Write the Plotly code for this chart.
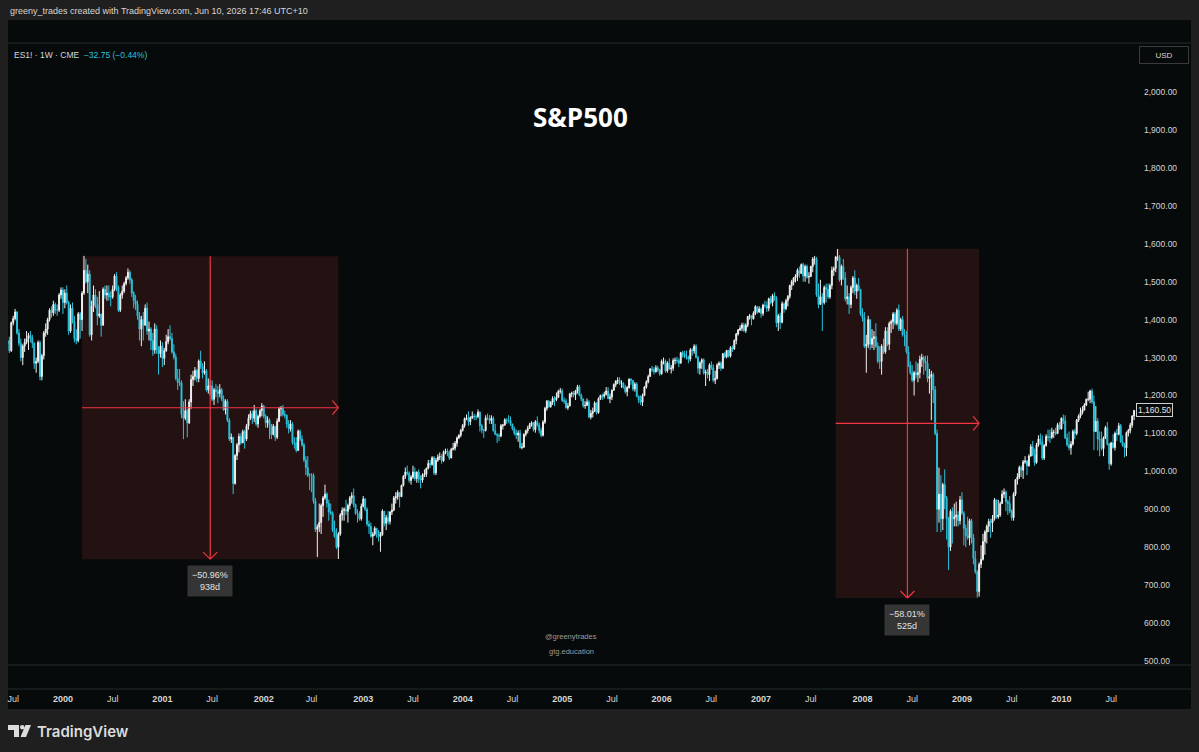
import plotly.graph_objects as go
import pandas as pd

# ---------------- data (weekly ES1! candles) ----------------
start_week = "1999-06-14"
first_open = 1335.0

close = [
    # 1999
    1345, 1318, 1392, 1403, 1420, 1365, 1338, 1300, 1330, 1340, 1350, 1358, 1352, 1338, 1285, 1290, 1340, 1250, 1305, 1365,
    1375, 1400, 1425, 1418, 1440, 1425, 1425, 1465, 1478,
    # 2000
    1445, 1470, 1445, 1370, 1430, 1395, 1350, 1345, 1415, 1400, 1470, 1530, 1500, 1520, 1360, 1435, 1465, 1440, 1410, 1415,
    1385, 1480, 1465, 1470, 1460, 1460, 1480, 1515, 1485, 1425, 1465, 1475, 1495, 1510, 1525, 1505, 1470, 1450, 1440, 1410,
    1375, 1400, 1385, 1430, 1370, 1375, 1345, 1320, 1375, 1320, 1310, 1330,
    # 2001
    1298, 1318, 1342, 1355, 1350, 1315, 1301, 1245, 1235, 1233, 1150, 1140, 1160, 1128, 1183, 1242, 1250, 1266, 1245, 1291,
    1278, 1260, 1265, 1215, 1225, 1225, 1190, 1215, 1210, 1205, 1215, 1190, 1162, 1185, 1135, 1085, 1090, 968, 1042, 1070,
    1092, 1075, 1105, 1085, 1120, 1140, 1152, 1140, 1160, 1125, 1145, 1160, 1172,
    # 2002
    1146, 1128, 1135, 1122, 1097, 1118, 1090, 1132, 1165, 1168, 1150, 1148, 1125, 1112, 1125, 1076, 1075, 1055, 1106, 1085,
    1070, 1030, 1010, 990, 990, 990, 922, 847, 853, 865, 910, 930, 940, 916, 893, 890, 845, 828, 800, 835,
    885, 897, 900, 895, 910, 930, 936, 912, 889, 889, 875, 908,
    # 2003
    927, 900, 861, 855, 829, 834, 850, 841, 828, 833, 895, 863, 878, 868, 893, 898, 930, 933, 944, 933,
    963, 987, 998, 995, 976, 985, 998, 981, 998, 980, 977, 990, 993, 1008, 1021, 1018, 1036, 996, 1029, 1038,
    1039, 1028, 1050, 1053, 1050, 1035, 1058, 1061, 1074, 1088, 1095, 1108,
    # 2004
    1121, 1139, 1141, 1131, 1142, 1145, 1144, 1144, 1156, 1120, 1109, 1108, 1141, 1139, 1134, 1140, 1107, 1098, 1095, 1093,
    1120, 1122, 1136, 1135, 1134, 1125, 1112, 1101, 1096, 1101, 1063, 1064, 1098, 1107, 1113, 1123, 1128, 1110, 1131, 1122,
    1108, 1095, 1130, 1166, 1185, 1170, 1182, 1192, 1189, 1195, 1211, 1212,
    # 2005
    1187, 1185, 1168, 1172, 1204, 1206, 1202, 1212, 1223, 1201, 1191, 1173, 1174, 1183, 1143, 1153, 1158, 1180, 1155, 1192,
    1200, 1198, 1203, 1212, 1192, 1196, 1214, 1229, 1238, 1240, 1232, 1233, 1222, 1210, 1221, 1243, 1240, 1217, 1230, 1198,
    1188, 1182, 1200, 1222, 1236, 1250, 1270, 1268, 1263, 1273, 1267, 1257,
    # 2006
    1290, 1290, 1265, 1285, 1270, 1272, 1292, 1293, 1292, 1285, 1313, 1309, 1302, 1301, 1296, 1320, 1318, 1330, 1300, 1272,
    1286, 1294, 1259, 1262, 1255, 1280, 1273, 1240, 1245, 1280, 1285, 1272, 1310, 1302, 1319, 1304, 1326, 1323, 1345, 1362,
    1373, 1377, 1386, 1371, 1385, 1408, 1410, 1402, 1417, 1434, 1420, 1428,
    # 2007
    1416, 1438, 1437, 1430, 1455, 1445, 1463, 1458, 1392, 1410, 1393, 1442, 1429, 1450, 1461, 1490, 1500, 1510, 1515, 1530,
    1522, 1545, 1515, 1540, 1512, 1514, 1540, 1560, 1560, 1465, 1440, 1460, 1445, 1485, 1480, 1460, 1490, 1530, 1535, 1565,
    1565, 1505, 1540, 1510, 1455, 1460, 1440, 1485, 1510, 1475, 1490, 1480, 1415,
    # 2008
    1405, 1330, 1335, 1400, 1335, 1350, 1355, 1330, 1290, 1290, 1330, 1315, 1370, 1335, 1390, 1395, 1415, 1390, 1425, 1375,
    1400, 1360, 1360, 1315, 1280, 1260, 1240, 1260, 1255, 1260, 1295, 1300, 1290, 1285, 1245, 1250, 1255, 1215, 1100, 900,
    940, 875, 965, 930, 875, 800, 895, 875, 880, 885, 870, 925,
    # 2009
    890, 850, 830, 825, 870, 825, 770, 735, 683, 755, 768, 815, 840, 855, 868, 865, 875, 925, 880, 885,
    915, 940, 945, 920, 915, 895, 878, 940, 978, 985, 1010, 1003, 1025, 1027, 1015, 1040, 1065, 1043, 1023, 1070,
    1085, 1078, 1035, 1068, 1092, 1090, 1090, 1103, 1103, 1100, 1123, 1112,
    # 2010
    1140, 1133, 1088, 1070, 1062, 1072, 1105, 1100, 1135, 1146, 1155, 1162, 1175, 1190, 1190, 1212, 1183, 1105, 1132, 1085,
    1083, 1060, 1088, 1115, 1072, 1020, 1075, 1063, 1100, 1098, 1120, 1078, 1068, 1062, 1102, 1108, 1122, 1146, 1160.5,
]

high = [
    # 1999
    1352, 1355, 1395, 1410, 1428, 1422, 1375, 1350, 1335, 1350, 1370, 1365, 1370, 1360, 1340, 1300, 1345, 1345, 1310, 1370,
    1390, 1405, 1430, 1435, 1450, 1445, 1440, 1470, 1485,
    # 2000
    1485, 1480, 1490, 1450, 1440, 1445, 1410, 1375, 1420, 1420, 1475, 1568, 1560, 1545, 1530, 1450, 1490, 1480, 1460, 1475,
    1415, 1485, 1490, 1490, 1490, 1475, 1490, 1520, 1525, 1490, 1470, 1490, 1500, 1515, 1535, 1530, 1510, 1475, 1465, 1450,
    1420, 1410, 1420, 1440, 1445, 1395, 1380, 1365, 1390, 1385, 1330, 1345,
    # 2001
    1340, 1325, 1360, 1375, 1385, 1365, 1335, 1310, 1270, 1270, 1240, 1185, 1190, 1165, 1190, 1255, 1265, 1275, 1270, 1295,
    1318, 1285, 1290, 1270, 1245, 1240, 1240, 1220, 1230, 1225, 1230, 1220, 1200, 1190, 1190, 1140, 1100, 1090, 1045, 1075,
    1100, 1100, 1110, 1110, 1125, 1150, 1160, 1160, 1175, 1165, 1150, 1165, 1180,
    # 2002
    1175, 1150, 1145, 1140, 1125, 1125, 1120, 1140, 1170, 1172, 1175, 1160, 1150, 1135, 1135, 1130, 1090, 1090, 1110, 1110,
    1095, 1075, 1040, 1040, 995, 995, 995, 930, 860, 915, 915, 935, 965, 945, 925, 915, 895, 870, 850, 840,
    890, 905, 905, 925, 915, 935, 945, 955, 915, 900, 895, 915,
    # 2003
    935, 930, 905, 870, 865, 840, 855, 850, 845, 840, 900, 890, 885, 895, 895, 915, 935, 945, 950, 945,
    965, 990, 1010, 1015, 1000, 990, 1015, 1010, 1000, 1005, 990, 995, 1005, 1010, 1030, 1030, 1040, 1040, 1035, 1045,
    1050, 1045, 1055, 1060, 1060, 1055, 1062, 1075, 1080, 1092, 1098, 1112,
    # 2004
    1125, 1142, 1150, 1158, 1145, 1158, 1152, 1150, 1163, 1158, 1125, 1112, 1148, 1152, 1148, 1148, 1145, 1125, 1100, 1100,
    1125, 1125, 1140, 1140, 1148, 1145, 1125, 1118, 1110, 1108, 1110, 1075, 1100, 1110, 1120, 1128, 1132, 1130, 1135, 1145,
    1128, 1115, 1135, 1170, 1188, 1188, 1185, 1198, 1198, 1208, 1215, 1220,
    # 2005
    1218, 1195, 1192, 1180, 1207, 1210, 1212, 1215, 1228, 1228, 1205, 1192, 1185, 1192, 1188, 1162, 1168, 1185, 1182, 1195,
    1202, 1205, 1210, 1222, 1222, 1205, 1216, 1232, 1240, 1248, 1248, 1240, 1235, 1228, 1225, 1245, 1245, 1240, 1235, 1235,
    1200, 1200, 1205, 1225, 1240, 1255, 1272, 1278, 1275, 1280, 1278, 1270,
    # 2006
    1295, 1300, 1295, 1290, 1298, 1280, 1298, 1300, 1302, 1298, 1315, 1318, 1318, 1318, 1305, 1325, 1325, 1335, 1335, 1305,
    1290, 1298, 1298, 1268, 1270, 1285, 1290, 1282, 1265, 1285, 1290, 1290, 1312, 1315, 1320, 1320, 1330, 1332, 1348, 1365,
    1375, 1385, 1392, 1392, 1390, 1410, 1415, 1410, 1422, 1438, 1435, 1435,
    # 2007
    1432, 1442, 1450, 1448, 1458, 1462, 1468, 1472, 1462, 1415, 1418, 1448, 1445, 1455, 1465, 1492, 1505, 1512, 1520, 1535,
    1540, 1548, 1550, 1545, 1545, 1525, 1542, 1565, 1568, 1565, 1495, 1505, 1470, 1490, 1495, 1495, 1495, 1540, 1540, 1568,
    1586, 1570, 1545, 1560, 1525, 1490, 1470, 1490, 1515, 1530, 1495, 1510, 1480,
    # 2008
    1430, 1420, 1360, 1410, 1400, 1375, 1370, 1390, 1340, 1330, 1335, 1350, 1380, 1380, 1395, 1400, 1420, 1420, 1430, 1440,
    1405, 1410, 1375, 1370, 1330, 1290, 1280, 1265, 1290, 1285, 1305, 1310, 1305, 1305, 1305, 1270, 1265, 1260, 1225, 1110,
    1010, 990, 970, 1005, 935, 880, 900, 905, 915, 920, 895, 935,
    # 2009
    945, 895, 860, 880, 875, 875, 835, 790, 740, 760, 805, 835, 845, 860, 875, 875, 885, 930, 925, 925,
    920, 950, 955, 950, 925, 935, 900, 945, 980, 995, 1015, 1015, 1030, 1040, 1030, 1045, 1072, 1080, 1060, 1075,
    1095, 1100, 1095, 1072, 1098, 1110, 1110, 1115, 1110, 1115, 1128, 1130,
    # 2010
    1142, 1150, 1148, 1100, 1105, 1080, 1110, 1112, 1138, 1150, 1168, 1172, 1180, 1192, 1210, 1215, 1218, 1200, 1172, 1140,
    1105, 1105, 1092, 1120, 1130, 1075, 1078, 1098, 1105, 1112, 1128, 1125, 1095, 1075, 1105, 1112, 1128, 1148, 1162,
]

low = [
    # 1999
    1318, 1312, 1315, 1385, 1398, 1360, 1330, 1290, 1280, 1315, 1335, 1320, 1340, 1325, 1270, 1260, 1285, 1240, 1240, 1295,
    1355, 1360, 1395, 1405, 1410, 1415, 1410, 1420, 1455,
    # 2000
    1415, 1430, 1440, 1360, 1365, 1390, 1340, 1335, 1340, 1350, 1370, 1465, 1495, 1470, 1355, 1345, 1420, 1430, 1385, 1405,
    1355, 1385, 1455, 1450, 1450, 1435, 1455, 1475, 1475, 1420, 1420, 1455, 1470, 1490, 1505, 1495, 1460, 1430, 1425, 1400,
    1345, 1330, 1345, 1390, 1360, 1345, 1320, 1305, 1310, 1310, 1255, 1300,
    # 2001
    1275, 1280, 1315, 1335, 1345, 1310, 1295, 1240, 1215, 1225, 1140, 1085, 1135, 1090, 1125, 1165, 1225, 1240, 1235, 1235,
    1270, 1245, 1255, 1210, 1205, 1200, 1185, 1175, 1195, 1180, 1195, 1185, 1160, 1150, 1130, 1080, 1075, 940, 965, 1030,
    1050, 1070, 1075, 1060, 1080, 1110, 1135, 1125, 1130, 1120, 1115, 1140, 1145,
    # 2002
    1140, 1115, 1115, 1085, 1085, 1095, 1080, 1085, 1130, 1145, 1145, 1140, 1115, 1100, 1105, 1070, 1060, 1050, 1055, 1080,
    1065, 1025, 990, 985, 950, 945, 915, 840, 774, 840, 835, 880, 925, 905, 870, 885, 840, 825, 795, 769,
    830, 870, 870, 885, 865, 900, 915, 905, 885, 865, 870, 870,
    # 2003
    905, 895, 855, 835, 825, 805, 830, 825, 815, 788, 830, 855, 845, 860, 860, 885, 895, 915, 925, 905,
    935, 960, 980, 990, 970, 965, 980, 975, 970, 970, 955, 970, 985, 985, 1005, 1010, 1015, 990, 990, 1025,
    1030, 1020, 1025, 1045, 1040, 1030, 1035, 1055, 1055, 1065, 1085, 1090,
    # 2004
    1105, 1115, 1135, 1120, 1122, 1138, 1135, 1135, 1140, 1105, 1100, 1088, 1105, 1135, 1125, 1125, 1105, 1095, 1075, 1080,
    1090, 1110, 1120, 1125, 1128, 1120, 1108, 1095, 1085, 1078, 1060, 1058, 1062, 1092, 1100, 1112, 1118, 1105, 1102, 1118,
    1100, 1090, 1092, 1125, 1160, 1168, 1168, 1175, 1172, 1185, 1195, 1205,
    # 2005
    1183, 1178, 1165, 1162, 1172, 1195, 1195, 1188, 1205, 1198, 1185, 1168, 1165, 1172, 1140, 1137, 1142, 1158, 1150, 1152,
    1188, 1188, 1192, 1200, 1190, 1180, 1188, 1212, 1222, 1230, 1228, 1220, 1218, 1205, 1198, 1218, 1228, 1212, 1210, 1195,
    1180, 1175, 1172, 1198, 1218, 1232, 1250, 1262, 1255, 1260, 1262, 1252,
    # 2006
    1255, 1282, 1260, 1260, 1268, 1258, 1265, 1282, 1285, 1275, 1285, 1300, 1298, 1295, 1285, 1290, 1305, 1310, 1298, 1258,
    1255, 1270, 1255, 1225, 1245, 1238, 1268, 1235, 1230, 1242, 1270, 1265, 1270, 1298, 1298, 1300, 1300, 1315, 1320, 1335,
    1358, 1370, 1370, 1368, 1365, 1380, 1400, 1385, 1400, 1412, 1415, 1418,
    # 2007
    1405, 1410, 1430, 1420, 1422, 1440, 1435, 1450, 1380, 1370, 1375, 1390, 1418, 1425, 1435, 1455, 1478, 1490, 1498, 1502,
    1510, 1520, 1500, 1500, 1508, 1495, 1512, 1525, 1545, 1460, 1430, 1440, 1370, 1440, 1445, 1455, 1455, 1480, 1515, 1525,
    1555, 1500, 1490, 1505, 1448, 1440, 1415, 1430, 1470, 1465, 1455, 1475, 1410,
    # 2008
    1395, 1325, 1260, 1325, 1320, 1325, 1320, 1325, 1285, 1270, 1255, 1310, 1310, 1330, 1320, 1365, 1375, 1385, 1385, 1370,
    1370, 1355, 1330, 1310, 1275, 1255, 1235, 1200, 1245, 1235, 1245, 1275, 1255, 1265, 1235, 1205, 1135, 1180, 1095, 840,
    865, 840, 845, 900, 820, 740, 790, 810, 855, 855, 855, 860,
    # 2009
    885, 805, 800, 820, 805, 810, 755, 730, 667, 670, 745, 765, 780, 810, 840, 825, 840, 870, 875, 875,
    880, 915, 930, 895, 885, 890, 870, 870, 935, 965, 980, 985, 980, 1020, 990, 1012, 1040, 1040, 1015, 1020,
    1065, 1070, 1030, 1030, 1065, 1080, 1075, 1085, 1088, 1095, 1098, 1110,
    # 2010
    1110, 1125, 1085, 1065, 1055, 1044, 1068, 1085, 1095, 1130, 1140, 1150, 1160, 1172, 1185, 1180, 1178, 1056, 1105, 1055,
    1040, 1055, 1040, 1085, 1068, 1004, 1015, 1060, 1055, 1080, 1095, 1075, 1065, 1037, 1040, 1092, 1100, 1115, 1135,
]

# drawdown measurements (anchor bar dates and prices)
dd1_start, dd1_end, dd1_top, dd1_bottom = "2000-03-13", "2002-10-07", 1567.0, 768.5
dd2_start, dd2_end, dd2_top, dd2_bottom = "2007-10-01", "2009-03-09", 1586.75, 666.25

price_ticks = list(range(500, 2001, 100))

# ---------------- build ----------------
n = min(len(close), len(high), len(low))
dates = pd.date_range(start_week, periods=n, freq="W-MON")
opens = [first_open] + close[:n - 1]
closes = close[:n]
highs = [max(h, o, c) for h, o, c in zip(high[:n], opens, closes)]
lows = [min(l, o, c) for l, o, c in zip(low[:n], opens, closes)]

UP = "#f2f2f2"
DN = "#2cc3dc"
PANEL = "#070a0a"
FRAME = "#1f1f1f"
RED = "#f23645"
LINE = "#252a2a"

W, H = 1199, 752
L, R, T, B = 8, 1136, 45, 689
y_lo, y_hi = 489.5, 2124.0
x_lo, x_hi = pd.Timestamp("1999-06-16"), pd.Timestamp("2010-10-04")


def px(x):
    return (x - L) / (R - L)


def py(y):
    return (B - y) / (B - T)


days_per_px = (x_hi - x_lo).days / (R - L)
price_per_px = (y_hi - y_lo) / (665 - T)

# time ticks: first bar of every January / July
tickvals, ticktext = [], []
for yr in range(1999, 2011):
    for m in (1, 7):
        sel = [d for d in dates if d.year == yr and d.month == m]
        if sel:
            tickvals.append(sel[0])
            ticktext.append("Jul" if m == 7 else f"<b>{yr}</b>")

fig = go.Figure()
fig.add_trace(go.Candlestick(
    x=dates, open=opens, high=highs, low=lows, close=closes,
    increasing=dict(line=dict(color=UP, width=1), fillcolor=UP),
    decreasing=dict(line=dict(color=DN, width=1), fillcolor=DN),
    whiskerwidth=0, hoverinfo="skip", showlegend=False,
))

shapes = []
# dark chart panel and separators
shapes.append(dict(type="rect", xref="paper", yref="paper", x0=px(8), x1=px(1191), y0=py(709), y1=py(20),
                   fillcolor=PANEL, line=dict(width=0), layer="below"))
for yy in (43, 665, 689):
    shapes.append(dict(type="line", xref="paper", yref="paper", x0=px(8), x1=px(1191), y0=py(yy), y1=py(yy),
                       line=dict(color=LINE, width=1)))

annotations = []


def seg(x0, y0, x1, y1):
    shapes.append(dict(type="line", xref="x", yref="y", x0=x0, x1=x1, y0=y0, y1=y1,
                       line=dict(color=RED, width=1.2)))


def drawdown(s, e, top, bot):
    s, e = pd.Timestamp(s), pd.Timestamp(e)
    mid_t = s + (e - s) / 2
    mid_p = (top + bot) / 2
    shapes.append(dict(type="rect", xref="x", yref="y", x0=s, x1=e, y0=bot, y1=top,
                       fillcolor="#241111", line=dict(width=0), layer="below"))
    seg(s, mid_p, e, mid_p)
    seg(mid_t, top, mid_t, bot)
    ddx = pd.Timedelta(days=6 * days_per_px)
    ddy = 7 * price_per_px
    # right arrow head
    seg(e - ddx, mid_p + ddy, e, mid_p)
    seg(e - ddx, mid_p - ddy, e, mid_p)
    # down arrow head
    hx = pd.Timedelta(days=7 * days_per_px)
    hy = 7 * price_per_px
    seg(mid_t - hx, bot + hy, mid_t, bot)
    seg(mid_t + hx, bot + hy, mid_t, bot)
    pct = (bot / top - 1) * 100
    ndays = (e - s).days
    annotations.append(dict(x=mid_t, y=bot, xref="x", yref="y", xanchor="center", yanchor="top", yshift=-6,
                            text=f"{pct:.2f}%".replace("-", "−") + f"<br>{ndays}d", showarrow=False,
                            font=dict(family="Liberation Sans", size=9, color="#e2e2e2"),
                            bgcolor="#353535", borderpad=4, align="center"))


drawdown(dd1_start, dd1_end, dd1_top, dd1_bottom)
drawdown(dd2_start, dd2_end, dd2_top, dd2_bottom)

# texts
annotations += [
    dict(xref="paper", yref="paper", x=px(8), y=py(11), xanchor="left", yanchor="middle", showarrow=False,
         text="greeny_trades created with TradingView.com, Jun 10, 2026 17:46 UTC+10",
         font=dict(family="Liberation Sans", size=9, color="#d6d6d6")),
    dict(xref="paper", yref="paper", x=px(12), y=py(55), xanchor="left", yanchor="middle", showarrow=False,
         text=f"ES1! · 1W · CME  <span style='color:{DN}'>−32.75 (−0.44%)</span>",
         font=dict(family="Liberation Sans", size=8.5, color="#d6d6d6")),
    dict(xref="paper", yref="paper", x=px(580), y=py(117), xanchor="center", yanchor="middle", showarrow=False,
         text="<b>S&amp;P500</b>", font=dict(family="Open Sans", size=26, color="#ffffff")),
    dict(xref="paper", yref="paper", x=px(571), y=py(636), xanchor="center", yanchor="middle", showarrow=False,
         text="@greenytrades", font=dict(family="Liberation Sans", size=7.5, color="#9a9a9a")),
    dict(xref="paper", yref="paper", x=px(571), y=py(651), xanchor="center", yanchor="middle", showarrow=False,
         text="gtg.education", font=dict(family="Liberation Sans", size=7.5, color="#9a9a9a")),
    dict(xref="paper", yref="paper", x=px(1164), y=py(55), xanchor="center", yanchor="middle", showarrow=False,
         text="USD", width=46, height=14, bordercolor="#3a3a3a", borderwidth=1, borderpad=1,
         font=dict(family="Liberation Sans", size=8, color="#d6d6d6")),
    dict(xref="paper", yref="y", x=px(1136), y=closes[-1], xanchor="left", yanchor="middle", showarrow=False,
         text=f"{closes[-1]:,.2f}", bgcolor=PANEL, bordercolor="#cfcfcf", borderwidth=1, borderpad=1,
         font=dict(family="Liberation Sans", size=8.5, color="#e6e6e6")),
    dict(xref="paper", yref="paper", x=px(35), y=py(731), xanchor="left", yanchor="middle", showarrow=False,
         text="TradingView", font=dict(family="Inter", size=15, color="#dcdcdc", weight=600)),
]


# TradingView logo
def ppath(pts):
    return "M " + " L ".join(f"{px(a)},{py(b)}" for a, b in pts) + " Z"


shapes.append(dict(type="path", xref="paper", yref="paper",
                   path=ppath([(8, 725), (19, 725), (19, 737), (14, 737), (14, 730), (8, 730)]),
                   fillcolor="#dcdcdc", line=dict(width=0)))
shapes.append(dict(type="circle", xref="paper", yref="paper", x0=px(20), x1=px(24.5), y0=py(729.5), y1=py(725),
                   fillcolor="#dcdcdc", line=dict(width=0)))
shapes.append(dict(type="path", xref="paper", yref="paper",
                   path=ppath([(25.5, 725), (31, 725), (26, 737), (20.5, 737)]),
                   fillcolor="#dcdcdc", line=dict(width=0)))

fig.update_layout(
    width=W, height=H,
    margin=dict(l=L, r=W - R, t=T, b=H - B, pad=0),
    paper_bgcolor=FRAME, plot_bgcolor=PANEL,
    showlegend=False, hovermode=False,
    shapes=shapes, annotations=annotations,
    xaxis=dict(type="date", range=[x_lo, x_hi], rangeslider=dict(visible=False),
               showgrid=False, zeroline=False, showline=False, ticks="",
               tickvals=tickvals, ticktext=ticktext, anchor="free", position=0,
               tickfont=dict(family="Liberation Sans", size=9, color="#d6d6d6"), ticklabelstandoff=3),
    yaxis=dict(range=[y_lo, y_hi], domain=[(B - 665) / (B - T), 1], side="right",
               showgrid=False, zeroline=False, showline=False, ticks="",
               tickvals=price_ticks, ticktext=[f"{v:,.2f}" for v in price_ticks],
               tickfont=dict(family="Liberation Sans", size=8.5, color="#d6d6d6"), ticklabelstandoff=7),
)

fig.write_html("out.html")
